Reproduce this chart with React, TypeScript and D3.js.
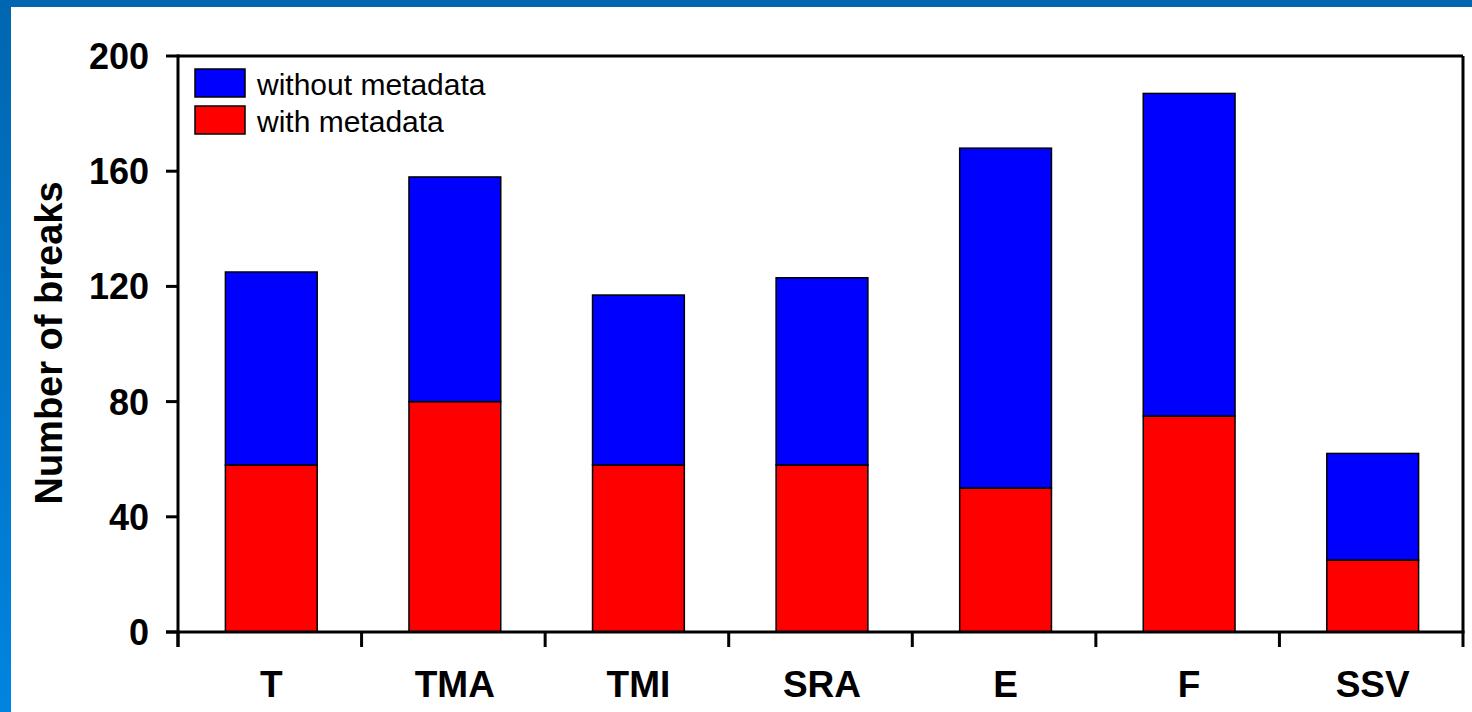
import React from "react";
import * as d3 from "d3";

const categories = ["T", "TMA", "TMI", "SRA", "E", "F", "SSV"];
const withMetadata = [58, 80, 58, 58, 50, 75, 25];
const withoutMetadata = [67, 78, 59, 65, 118, 112, 37];
const yTicks = [0, 40, 80, 120, 160, 200];
const seriesNames = ["without metadata", "with metadata"];
const seriesColors = ["#0000ff", "#ff0000"];

const W = 1472;
const H = 712;
const left = 178;
const right = 1463;
const top = 56;
const bottom = 632;

export default function App() {
  const x = d3.scaleBand<string>().domain(categories).range([left, right]).paddingInner(0).paddingOuter(0);
  const y = d3.scaleLinear().domain([0, 200]).range([bottom, top]);
  const bw = x.bandwidth() * 0.5;

  const rows = categories.map((c, i) => ({
    cat: c,
    "with metadata": withMetadata[i],
    "without metadata": withoutMetadata[i],
  }));
  const stack = d3.stack<any>().keys(["with metadata", "without metadata"])(rows);

  const boundaries = categories.map((c) => x(c)!).concat([right]);

  return (
    <svg
      width={W}
      height={H}
      style={{ position: "absolute", left: 0, top: 0, fontFamily: "Arial, 'Liberation Sans', sans-serif" }}
    >
      <defs>
        <linearGradient id="edge" x1="0" y1="0" x2="0" y2="1">
          <stop offset="0" stopColor="#0066b0" />
          <stop offset="1" stopColor="#0084e0" />
        </linearGradient>
      </defs>
      <rect x={0} y={0} width={W} height={H} fill="#ffffff" />
      <rect x={0} y={0} width={W} height={7} fill="#0066b0" />
      <rect x={0} y={0} width={11} height={H} fill="url(#edge)" />

      {/* bars */}
      {stack.map((s) => (
        <g key={s.key}>
          {s.map((d, i) => (
            <rect
              key={i}
              x={x(categories[i])! + (x.bandwidth() - bw) / 2 + 1.5}
              y={y(d[1])}
              width={bw}
              height={y(d[0]) - y(d[1])}
              fill={s.key === "with metadata" ? seriesColors[1] : seriesColors[0]}
              stroke="#000"
              strokeWidth={1.5}
            />
          ))}
        </g>
      ))}

      {/* frame */}
      <line x1={left} y1={top} x2={right} y2={top} stroke="#000" strokeWidth={3} />
      <line x1={right} y1={top} x2={right} y2={bottom} stroke="#000" strokeWidth={3} />
      <line x1={left} y1={top - 1.5} x2={left} y2={bottom + 15} stroke="#000" strokeWidth={3} />
      <line x1={left - 12} y1={bottom} x2={right + 1.5} y2={bottom} stroke="#000" strokeWidth={3} />

      {/* y ticks */}
      {yTicks.map((t) => (
        <g key={t}>
          <line x1={left - 12} x2={left} y1={y(t)} y2={y(t)} stroke="#000" strokeWidth={3} />
          <text x={149} y={y(t) + 13} textAnchor="end" fontSize={36} fontWeight="bold" fill="#000">
            {t}
          </text>
        </g>
      ))}

      {/* x ticks */}
      {boundaries.map((b, i) => (
        <line key={i} x1={b} x2={b} y1={bottom} y2={bottom + 15} stroke="#000" strokeWidth={3} />
      ))}
      {categories.map((c) => (
        <text
          key={c}
          x={x(c)! + x.bandwidth() / 2 + 1.5}
          y={697}
          textAnchor="middle"
          fontSize={37}
          fontWeight="bold"
          fill="#000"
        >
          {c}
        </text>
      ))}

      {/* y label */}
      <text
        transform={`translate(62, 343) rotate(-90)`}
        textAnchor="middle"
        fontSize={38}
        fontWeight="bold"
        fill="#000"
      >
        Number of breaks
      </text>

      {/* legend */}
      {seriesNames.map((n, i) => (
        <g key={n} transform={`translate(195, ${69 + i * 37})`}>
          <rect x={0} y={0} width={50} height={28} fill={seriesColors[i]} stroke="#000" strokeWidth={1.5} />
          <text x={62} y={26} fontSize={30} fill="#000">
            {n}
          </text>
        </g>
      ))}
    </svg>
  );
}
